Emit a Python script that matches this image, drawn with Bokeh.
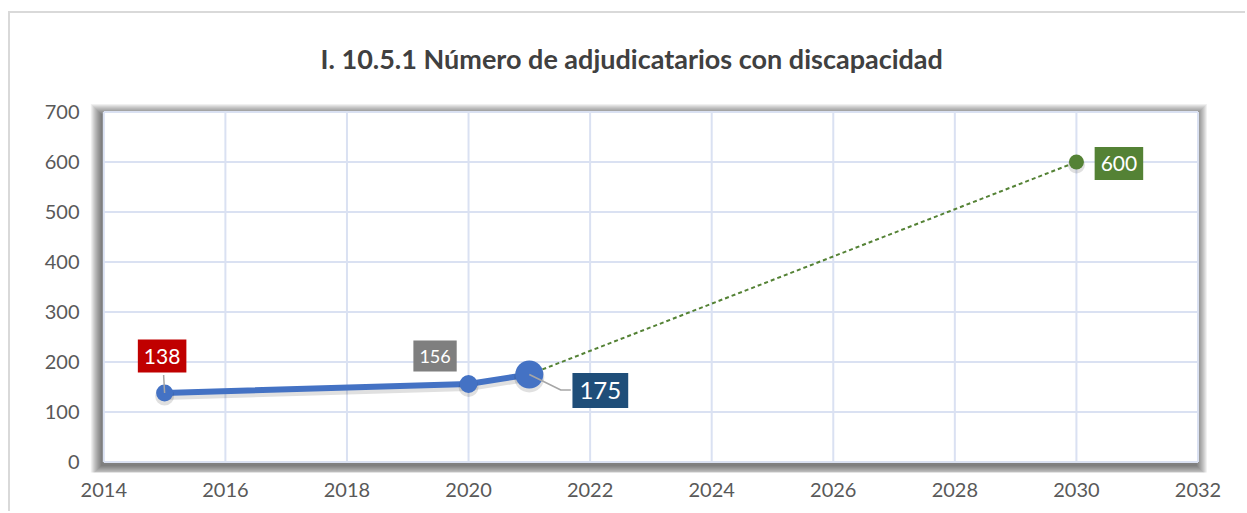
from bokeh.plotting import figure
from bokeh.models import Label, Range1d, FixedTicker
from bokeh.embed import file_html
from bokeh.resources import INLINE

# ---- data -------------------------------------------------------------
years_actual = [2015, 2020, 2021]
values_actual = [138, 156, 175]
years_target = [2021, 2030]
values_target = [175, 600]
x_ticks = [2014, 2016, 2018, 2020, 2022, 2024, 2026, 2028, 2030, 2032]
y_ticks = [0, 100, 200, 300, 400, 500, 600, 700]
title_text = "I. 10.5.1 Número de adjudicatarios con discapacidad"

# ---- geometry ---------------------------------------------------------
OFF_L, OFF_T = 10, 13          # chart area starts after its light border
W, H = 1247 - OFF_L, 513 - OFF_T
B_LEFT, B_RIGHT, B_TOP, B_BOTTOM = 88 - OFF_L, 32, 98 - OFF_T, 41
X0, X1 = 2013.748, 2032.288
Y0, Y1 = -21, 727
PX_X = (W - B_LEFT - B_RIGHT) / (X1 - X0)   # pixels per year
PX_Y = (H - B_TOP - B_BOTTOM) / (Y1 - Y0)   # pixels per unit

FONT = "Lato"
GRID = "#dae1f2"

p = figure(width=W, height=H, x_range=Range1d(X0, X1), y_range=Range1d(Y0, Y1),
           output_backend="svg", toolbar_location=None,
           min_border_left=B_LEFT, min_border_right=B_RIGHT,
           min_border_top=B_TOP, min_border_bottom=B_BOTTOM)
p.styles = {"margin-left": "8px", "margin-top": "11px",
            "border-left": "2px solid #d9d9d9", "border-top": "2px solid #d9d9d9"}
p.outline_line_color = None
p.background_fill_color = "white"
p.border_fill_color = "white"
p.xgrid.visible = False
p.ygrid.visible = False

# title
p.title.text = title_text
p.title.align = "left"
p.title.offset = 232
p.title.standoff = 47
p.title.text_font = FONT
p.title.text_font_size = "27px"
p.title.text_font_style = "bold"
p.title.text_color = "#404040"

# axes
for ax, ticks in ((p.xaxis, x_ticks), (p.yaxis, y_ticks)):
    ax.ticker = FixedTicker(ticks=ticks)
    ax.axis_line_color = None
    ax.major_tick_line_color = None
    ax.minor_tick_line_color = None
    ax.major_label_text_font = FONT
    ax.major_label_text_font_size = "20px"
    ax.major_label_text_color = "#595959"
p.xaxis.major_label_standoff = 4
p.yaxis.major_label_standoff = 3

xmin, xmax = x_ticks[0], x_ticks[-1]
ymin, ymax = y_ticks[0], y_ticks[-1]

# soft shadow behind the plot box
sx, sy = -2, 3
for k in range(1, 12):
    p.quad(left=xmin + (sx - k) / PX_X, right=xmax + (sx + k) / PX_X,
           top=ymax + (k - sy) / PX_Y, bottom=ymin - (k + sy) / PX_Y,
           fill_color="black", fill_alpha=0.06, line_color=None)
p.quad(left=xmin, right=xmax, top=ymax, bottom=ymin,
       fill_color="white", line_color=None)

# grid lines inside the box
p.segment(x0=x_ticks, x1=x_ticks, y0=[ymin] * len(x_ticks), y1=[ymax] * len(x_ticks),
          line_color=GRID, line_width=2)
p.segment(x0=[xmin] * len(y_ticks), x1=[xmax] * len(y_ticks), y0=y_ticks, y1=y_ticks,
          line_color=GRID, line_width=2)

# target (dashed) line
p.line(years_target, values_target, line_color="#548235", line_width=2,
       line_dash="4 3")

# actual series: shadow then line
shadow_dy = 3 / PX_Y
p.line(years_actual, [v - shadow_dy for v in values_actual], line_color="black",
       line_alpha=0.12, line_width=8)
p.line(years_actual, values_actual, line_color="#4472C4", line_width=6)

actual_sizes = [17, 18, 28]
p.scatter(years_actual, [v - shadow_dy for v in values_actual], size=[s + 2 for s in actual_sizes],
          fill_color="black", fill_alpha=0.12, line_color=None)
p.scatter(years_actual, values_actual, size=actual_sizes,
          fill_color="#4472C4", line_color=None)
p.scatter([years_target[-1]], [values_target[-1] - shadow_dy], size=17,
          fill_color="black", fill_alpha=0.12, line_color=None)
p.scatter([years_target[-1]], [values_target[-1]], size=15,
          fill_color="#548235", line_color=None)

# leader lines (pixel offsets from the data point)
def px_point(x, y, dx, dy):
    return x + dx / PX_X, y - dy / PX_Y

lx, ly = zip(*[px_point(years_actual[0], values_actual[0], 0, 0),
               px_point(years_actual[0], values_actual[0], -1, -18)])
p.line(list(lx), list(ly), line_color="#a6a6a6", line_width=1.5)
lx, ly = zip(*[px_point(years_actual[2], values_actual[2], 0, 0),
               px_point(years_actual[2], values_actual[2], 31.5, 15.5),
               px_point(years_actual[2], values_actual[2], 41.5, 15.5)])
p.line(list(lx), list(ly), line_color="#a6a6a6", line_width=1.5)

# value labels
label_years = years_actual + [years_target[-1]]
label_values = values_actual + [values_target[-1]]
label_colors = ["#C00000", "#7F7F7F", "#1F4E79", "#548235"]
label_sizes = ["21px", "18px", "24px", "21px"]
label_offsets = [(-2.5, 37), (-33.5, 28), (71, -16), (42.5, -1.5)]
label_pads = [(6, 9), (6, 9), (7, 9), (6, 9)]
for xv, yv, c, fs, (dx, dy), pad in zip(label_years, label_values, label_colors,
                                        label_sizes, label_offsets, label_pads):
    p.add_layout(Label(x=xv, y=yv, text=str(yv), x_offset=dx, y_offset=dy,
                       text_align="center", text_baseline="middle",
                       text_color="white", text_font=FONT, text_font_size=fs,
                       background_fill_color=c, padding=pad))

open("out.html", "w").write(file_html(p, INLINE))
